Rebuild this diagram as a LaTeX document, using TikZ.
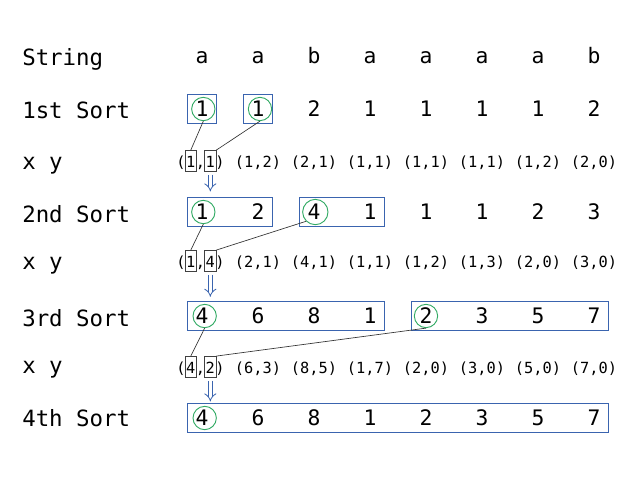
\documentclass[tikz,border=0pt]{standalone}
\usepackage{fontspec}
\setmainfont{DejaVu Sans Mono}
\usetikzlibrary{positioning,fit,arrows.meta}
\definecolor{penblue}{RGB}{58,100,175}
\definecolor{pengreen}{RGB}{50,170,100}
\tikzset{
  lbl/.style={anchor=west, font=\fontsize{16.8}{18}\selectfont, inner sep=0pt, text height=12pt, text depth=0pt},
  cell/.style={font=\fontsize{16}{18}\selectfont, inner sep=0pt, text height=11.6pt, text depth=0pt},
  pair/.style={font=\fontsize{11.5}{13}\selectfont, inner sep=0pt, text height=10.5pt, text depth=1pt},
  run/.style={draw=penblue, line width=0.8pt, inner xsep=6pt, inner ysep=5pt},
  ring/.style={draw=pengreen, line width=0.7pt, circle, minimum size=17.5pt, inner sep=0pt},
  pick/.style={draw=black!75, line width=0.5pt, inner xsep=0.6pt, inner ysep=2pt},
  link/.style={draw=black!80, line width=0.5pt},
  down/.style={draw=penblue, line width=0.6pt, double, double distance=2.6pt, -{Implies}},
}
\begin{document}
\begin{tikzpicture}[x=0.75pt, y=-0.75pt]
    \useasboundingbox (0,0) rectangle (640,480);

    % row labels
    \node[lbl] (l0) at (22,57) {String};
    \node[lbl] (l1) at (22,110) {1st Sort};
    \node[lbl] (m1) at (22,161) {x y};
    \node[lbl] (l2) at (22,214) {2nd Sort};
    \node[lbl] (m2) at (22,261) {x y};
    \node[lbl] (l3) at (22,318) {3rd Sort};
    \node[lbl] (m3) at (22,365) {x y};
    \node[lbl] (l4) at (22,418) {4th Sort};

    % string and ranks
    \foreach \v [count=\i] in {a,a,b,a,a,a,a,b}
        \node[cell] (s\i) at ({146+56*\i},56) {\v};
    \foreach \v [count=\i] in {1,1,2,1,1,1,1,2}
        \node[cell] (a\i) at ({146+56*\i},109) {\v};
    \foreach \v [count=\i] in {1,2,4,1,1,1,2,3}
        \node[cell] (b\i) at ({146+56*\i},212) {\v};
    \foreach \v [count=\i] in {4,6,8,1,2,3,5,7}
        \node[cell] (c\i) at ({146+56*\i},316) {\v};
    \foreach \v [count=\i] in {4,6,8,1,2,3,5,7}
        \node[cell] (d\i) at ({146+56*\i},418) {\v};

    % pairs, the first one char by char
    \node[pair] (p1x) at (190.8,161) {1};
    \node[pair, base left=0pt of p1x] (p1o) {(};
    \node[pair, base right=0pt of p1x] (p1c) {,};
    \node[pair, base right=0pt of p1c] (p1y) {1};
    \node[pair, base right=0pt of p1y] (p1e) {)};
    \foreach \x/\y [count=\i from 2] in {1/2,2/1,1/1,1/1,1/1,1/2,2/0}
        \node[pair] (q1\i) at ({146+56*\i},161) {(\x,\y)};

    \node[pair] (p2x) at (190.8,261) {1};
    \node[pair, base left=0pt of p2x] (p2o) {(};
    \node[pair, base right=0pt of p2x] (p2c) {,};
    \node[pair, base right=0pt of p2c] (p2y) {4};
    \node[pair, base right=0pt of p2y] (p2e) {)};
    \foreach \x/\y [count=\i from 2] in {2/1,4/1,1/1,1/2,1/3,2/0,3/0}
        \node[pair] (q2\i) at ({146+56*\i},261) {(\x,\y)};

    \node[pair] (p3x) at (190.8,367) {4};
    \node[pair, base left=0pt of p3x] (p3o) {(};
    \node[pair, base right=0pt of p3x] (p3c) {,};
    \node[pair, base right=0pt of p3c] (p3y) {2};
    \node[pair, base right=0pt of p3y] (p3e) {)};
    \foreach \x/\y [count=\i from 2] in {6/3,8/5,1/7,2/0,3/0,5/0,7/0}
        \node[pair] (q3\i) at ({146+56*\i},367) {(\x,\y)};

    % blue runs
    \node[run, fit=(a1)] (r11) {};
    \node[run, fit=(a2)] (r12) {};
    \node[run, fit=(b1)(b2)] (r21) {};
    \node[run, fit=(b3)(b4)] (r22) {};
    \node[run, fit=(c1)(c4)] (r31) {};
    \node[run, fit=(c5)(c8)] (r32) {};
    \node[run, fit=(d1)(d8)] (r41) {};

    % green rings
    \node[ring] (g1) at ([xshift=1pt]a1.center) {};
    \node[ring] (g2) at ([xshift=1.5pt]a2.center) {};
    \node[ring] (g3) at ([xshift=1pt]b1.center) {};
    \node[ring, minimum size=19pt] (g4) at ([xshift=1pt]b3.center) {};
    \node[ring] (g5) at ([xshift=2pt]c1.center) {};
    \node[ring] (g6) at (c5.center) {};
    \node[ring] (g7) at ([xshift=2pt]d1.center) {};

    % picked ranks
    \node[pick, fit=(p1x)] (k1) {};
    \node[pick, fit=(p1y)] (k2) {};
    \node[pick, fit=(p2x)] (k3) {};
    \node[pick, fit=(p2y)] (k4) {};
    \node[pick, fit=(p3x)] (k5) {};
    \node[pick, fit=(p3y)] (k6) {};

    \draw[link] (g1.south) -- (k1.north);
    \draw[link] (g2.south) -- (k2.north east);
    \draw[link] (g3.south) -- (k3.north);
    \draw[link] (g4.south west) -- (k4.north east);
    \draw[link] (g5.south) -- (k5.north);
    \draw[link] (g6.south) -- (k6.north east);

    % next sort
    \draw[down] ([yshift=-2pt]k2.south) -- ([yshift=4pt]k2.south |- r21.north);
    \draw[down] ([yshift=-2pt]k4.south) -- ([yshift=3pt]k4.south |- r31.north);
    \draw[down] ([yshift=-2pt]k6.south) -- ([yshift=1pt]k6.south |- r41.north);
\end{tikzpicture}
\end{document}
